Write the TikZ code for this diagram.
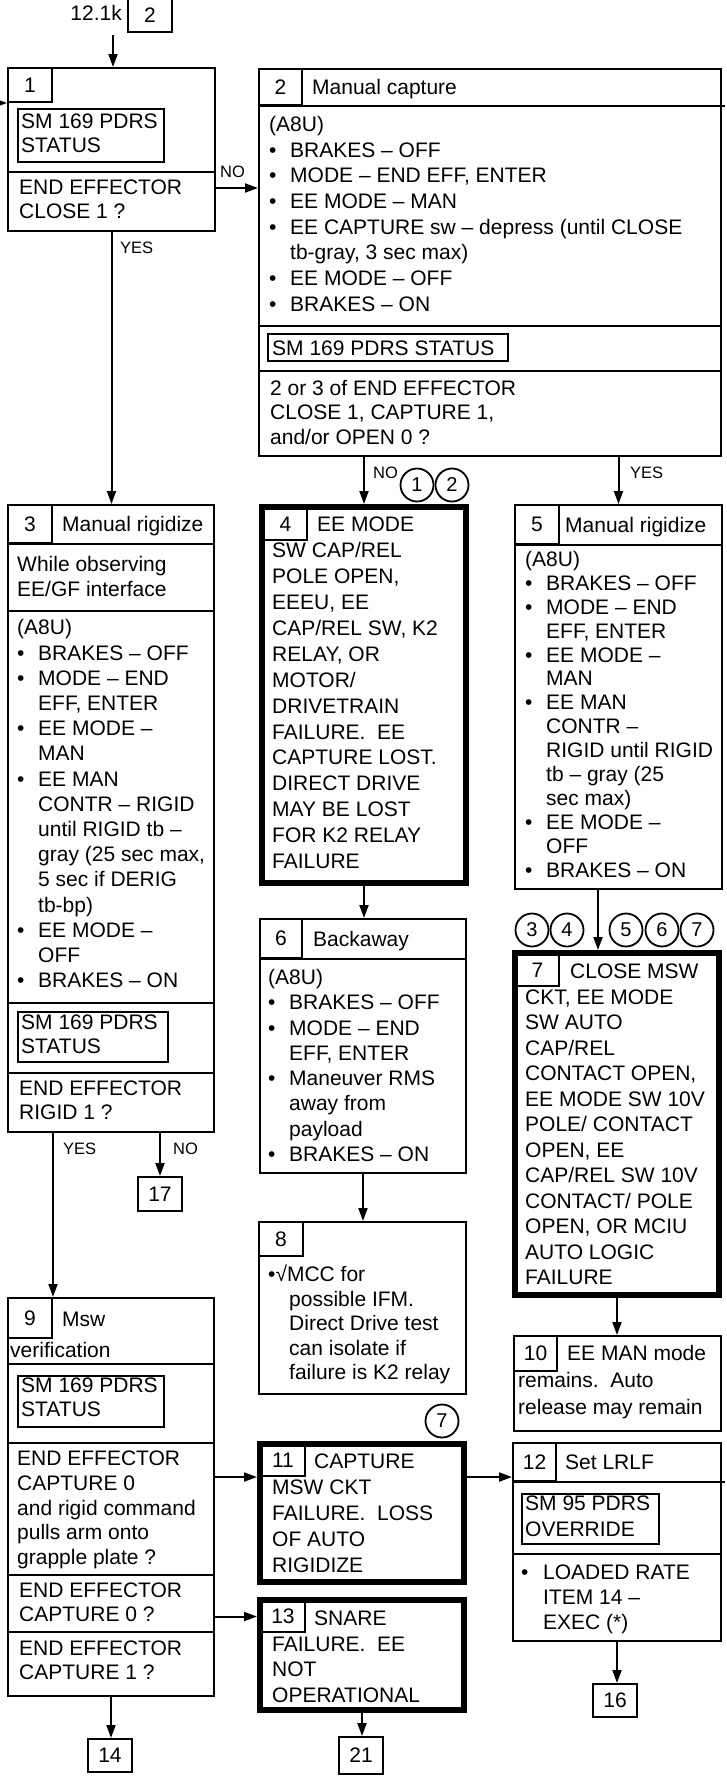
\documentclass[tikz,border=0pt]{standalone}
\usepackage{fontspec}
\setmainfont{Liberation Sans}
\usetikzlibrary{arrows.meta,positioning}
\newcommand{\bul}[1][21pt]{\makebox[#1][l]{•}}
\newcommand{\bcont}[1][21pt]{\hspace*{#1}}

\begin{document}
\begin{tikzpicture}[x=1pt,y=-1pt,>={Triangle[length=13pt,width=9pt]},
  box/.style={draw,line width=2pt,anchor=north west,inner sep=0pt,font=\fontsize{21}{25}\selectfont},
  failbox/.style={draw,line width=6pt,anchor=north west,inner sep=0pt},
  txt/.style={anchor=north west,inner sep=0pt,align=left,font=\fontsize{21}{#1}\selectfont,execute at begin node={\rule{0pt}{18pt}}},
  txt/.default=25.5,
  head/.style={anchor=base west,inner sep=0pt,font=\fontsize{21}{25}\selectfont},
  lbl/.style={anchor=base west,inner sep=0pt,font=\fontsize{16.5}{18}\selectfont},
  circ/.style={draw,circle,line width=1.8pt,minimum size=33pt,inner sep=0pt,font=\fontsize{20}{22}\selectfont},
  divline/.style={line width=2pt},
  link/.style={line width=2pt,->}]
\path[fill=white,use as bounding box] (0,0) rectangle (727,1792);

\node[anchor=base east,inner sep=0pt,font=\fontsize{21}{25}\selectfont] (ref) at (122,20) {12.1k};
\node[box,minimum width=44pt,minimum height=33pt] (r2) at (127,-2) {2};
\coordinate (entry) at (113,35);
\coordinate (side) at (-6,103);

% 1
\node[box,minimum width=207pt,minimum height=163pt] (b1) at (7,67) {};
\node[box,minimum width=44pt,minimum height=34pt] (n1) at (7,67) {1};
\node[box,minimum width=146pt,minimum height=53pt] (s1) at (17,108) {};
\node[txt=24] (s1t) at (21,114) {SM 169 PDRS\\STATUS};
\draw[divline] (b1.west |- 0,172) -- (b1.east |- 0,172);
\node[txt=24] (q1) at (19,180) {END EFFECTOR\\CLOSE 1 ?};

% 2
\node[box,minimum width=462pt,minimum height=387pt] (b2) at (258,68) {};
\node[box,minimum width=43pt,minimum height=36pt] (n2) at (258,68) {2};
\node[head] (h2) at (312,94.5) {Manual capture};
\draw[divline] (b2.west |- 0,106) -- ([xshift=3pt]b2.east |- 0,106);
\node[txt=25.7] (t2) at (269,116) {(A8U)\\\bul BRAKES – OFF\\\bul MODE – END EFF, ENTER\\\bul EE MODE – MAN\\\bul EE CAPTURE sw – depress (until CLOSE\\\bcont tb-gray, 3 sec max)\\\bul EE MODE – OFF\\\bul BRAKES – ON};
\draw[divline] (b2.west |- 0,326) -- (b2.east |- 0,326);
\node[box,minimum width=240pt,minimum height=27pt] (s2) at (267,333) {};
\node[head] (s2t) at (272,355) {SM 169 PDRS STATUS};
\draw[divline] (b2.west |- 0,371) -- (b2.east |- 0,371);
\node[txt=24.5] (q2) at (270,380) {2 or 3 of END EFFECTOR\\CLOSE 1, CAPTURE 1,\\and/or OPEN 0 ?};

% 3
\node[box,minimum width=206pt,minimum height=627pt] (b3) at (7,504) {};
\node[box,minimum width=44pt,minimum height=38pt] (n3) at (7,504) {3};
\node[head] (h3) at (62,531.5) {Manual rigidize};
\draw[divline] (b3.west |- 0,544) -- (b3.east |- 0,544);
\node[txt=25] (w3) at (17,556.5) {While observing\\EE/GF interface};
\draw[divline] (b3.west |- 0,611) -- (b3.east |- 0,611);
\node[txt=25.2] (t3) at (17,619.5) {(A8U)\\\bul BRAKES – OFF\\\bul MODE – END\\\bcont EFF, ENTER\\\bul EE MODE –\\\bcont MAN\\\bul EE MAN\\\bcont CONTR – RIGID\\\bcont until RIGID tb –\\\bcont gray (25 sec max,\\\bcont 5 sec if DERIG\\\bcont tb-bp)\\\bul EE MODE –\\\bcont OFF\\\bul BRAKES – ON};
\draw[divline] (b3.west |- 0,1003) -- (b3.east |- 0,1003);
\node[box,minimum width=150pt,minimum height=50pt] (s3) at (17,1011) {};
\node[txt=24] (s3t) at (21,1015) {SM 169 PDRS\\STATUS};
\draw[divline] (b3.west |- 0,1073) -- (b3.east |- 0,1073);
\node[txt=24.5] (q3) at (19,1080.5) {END EFFECTOR\\RIGID 1 ?};

% 4
\node[failbox,minimum width=204pt,minimum height=376pt] (b4) at (259,504) {};
\node[box,minimum width=43pt,minimum height=31pt] (n4) at (263,508) {4};
\node[txt=25.9] (t4) at (272,517) {\hspace*{45pt}EE MODE\\SW CAP/REL\\POLE OPEN,\\EEEU, EE\\CAP/REL SW, K2\\RELAY, OR\\MOTOR/\\DRIVETRAIN\\FAILURE.\ \ EE\\CAPTURE LOST.\\DIRECT DRIVE\\MAY BE LOST\\FOR K2 RELAY\\FAILURE};

% 6
\node[box,minimum width=206pt,minimum height=254pt] (b6) at (259,918) {};
\node[box,minimum width=42pt,minimum height=39pt] (n6) at (259,918) {6};
\node[head] (h6) at (313,946) {Backaway};
\draw[divline] (b6.west |- 0,959) -- (b6.east |- 0,959);
\node[txt=25.3] (t6) at (268,969) {(A8U)\\\bul BRAKES – OFF\\\bul MODE – END\\\bcont EFF, ENTER\\\bul Maneuver RMS\\\bcont away from\\\bcont payload\\\bul BRAKES – ON};

% 8
\node[box,minimum width=207pt,minimum height=172pt] (b8) at (258,1221) {};
\node[box,minimum width=44pt,minimum height=34pt] (n8) at (258,1221) {8};
\node[txt=24.5] (t8) at (268,1265) {•√MCC for\\\bcont possible IFM.\\\bcont Direct Drive test\\\bcont can isolate if\\\bcont failure is K2 relay};

% 5
\node[box,minimum width=207pt,minimum height=384pt] (b5) at (514,504) {};
\node[box,minimum width=44pt,minimum height=39pt] (n5) at (514,504) {5};
\node[head] (h5) at (565,532) {Manual rigidize};
\draw[divline] (b5.west |- 0,545) -- (b5.east |- 0,545);
\node[txt=23.9] (t5) at (525,551) {(A8U)\\\bul BRAKES – OFF\\\bul MODE – END\\\bcont EFF, ENTER\\\bul EE MODE –\\\bcont MAN\\\bul EE MAN\\\bcont CONTR –\\\bcont RIGID until RIGID\\\bcont tb – gray (25\\\bcont sec max)\\\bul EE MODE –\\\bcont OFF\\\bul BRAKES – ON};

\node[circ] (c1) at (417,485) {1};
\node[circ] (c2) at (452,485) {2};
\node[circ] (c3) at (532,930) {3};
\node[circ] (c4) at (567,930) {4};
\node[circ] (c5) at (626,930) {5};
\node[circ] (c6) at (662,930) {6};
\node[circ] (c7) at (697,930) {7};
\node[circ] (c7b) at (442,1421) {7};

% 7
\node[failbox,minimum width=204pt,minimum height=342pt] (b7) at (512,950) {};
\node[box,minimum width=43pt,minimum height=32pt] (n7) at (515,953) {7};
\node[txt=25.5] (t7) at (525,964) {\hspace*{45pt}CLOSE MSW\\CKT, EE MODE\\SW AUTO\\CAP/REL\\CONTACT OPEN,\\EE MODE SW 10V\\POLE/ CONTACT\\OPEN, EE\\CAP/REL SW 10V\\CONTACT/ POLE\\OPEN, OR MCIU\\AUTO LOGIC\\FAILURE};

% 10
\node[box,minimum width=207pt,minimum height=95pt] (b10) at (513,1335) {};
\node[box,minimum width=43pt,minimum height=35pt] (n10) at (513,1335) {10};
\node[txt=27] (t10) at (518,1345) {\hspace*{49pt}EE MAN mode\\remains.\ \ Auto\\release may remain};

% 9
\node[box,minimum width=206pt,minimum height=398pt] (b9) at (7,1297) {};
\node[box,minimum width=44pt,minimum height=40pt] (n9) at (7,1297) {9};
\node[head] (h9) at (62,1326) {Msw};
\node[head] (h9b) at (10,1357) {verification};
\draw[divline] (b9.west |- 0,1364) -- (b9.east |- 0,1364);
\node[box,minimum width=146pt,minimum height=51pt] (s9) at (17,1375) {};
\node[txt=24] (s9t) at (21,1378) {SM 169 PDRS\\STATUS};
\draw[divline] (b9.west |- 0,1443) -- (b9.east |- 0,1443);
\node[txt=24.6] (q9a) at (17,1451) {END EFFECTOR\\CAPTURE 0\\and rigid command\\pulls arm onto\\grapple plate ?};
\draw[divline] (b9.west |- 0,1575) -- (b9.east |- 0,1575);
\node[txt=24] (q9b) at (19,1583) {END EFFECTOR\\CAPTURE 0 ?};
\draw[divline] (b9.west |- 0,1632) -- (b9.east |- 0,1632);
\node[txt=23.5] (q9c) at (19,1641) {END EFFECTOR\\CAPTURE 1 ?};

% 11
\node[failbox,minimum width=204pt,minimum height=138pt] (b11) at (257,1441) {};
\node[box,minimum width=44pt,minimum height=31pt] (n11) at (260,1444) {11};
\node[txt=25.8] (t11) at (272,1454) {\hspace*{42pt}CAPTURE\\MSW CKT\\FAILURE.\ \ LOSS\\OF AUTO\\RIGIDIZE};

% 13
\node[failbox,minimum width=204pt,minimum height=110pt] (b13) at (257,1597) {};
\node[box,minimum width=44pt,minimum height=31pt] (n13) at (260,1600) {13};
\node[txt=25.5] (t13) at (272,1611) {\hspace*{42pt}SNARE\\FAILURE.\ \ EE\\NOT\\OPERATIONAL};

% 12
\node[box,minimum width=208pt,minimum height=198pt] (b12) at (512,1442) {};
\node[box,minimum width=43pt,minimum height=38pt] (n12) at (512,1442) {12};
\node[head] (h12) at (565,1469.5) {Set LRLF};
\draw[divline] (b12.west |- 0,1482) -- ([xshift=3pt]b12.east |- 0,1482);
\node[box,minimum width=137pt,minimum height=50pt] (s12) at (521,1493) {};
\node[txt=26] (s12t) at (525,1495.5) {SM 95 PDRS\\OVERRIDE};
\draw[divline] (b12.west |- 0,1554) -- (b12.east |- 0,1554);
\node[txt=25] (t12) at (521,1564.5) {\bul[22pt]LOADED RATE\\\bcont[22pt]ITEM 14 –\\\bcont[22pt]EXEC (*)};

\node[box,minimum width=44pt,minimum height=34pt] (r17) at (137,1176) {17};
\node[box,minimum width=44pt,minimum height=33pt] (r14) at (87,1738) {14};
\node[box,minimum width=44pt,minimum height=37pt] (r21) at (338,1736) {21};
\node[box,minimum width=44pt,minimum height=33pt] (r16) at (592,1683) {16};

\node[lbl] (no1) at (220,177) {NO};
\node[lbl] (yes1) at (120,253) {YES};
\node[lbl] (no2) at (373,478) {NO};
\node[lbl] (yes2) at (630,478) {YES};
\node[lbl] (yes3) at (63,1154) {YES};
\node[lbl] (no3) at (173,1154) {NO};

\draw[link] (entry) -- (entry |- b1.north);
\draw[link] (side) -- (side -| b1.west);
\draw[link] (b1.east |- 0,188) -- (b2.west |- 0,188);
\draw[link] (b1.south) -- (b1.south |- b3.north);
\draw[link] (b4.north |- b2.south) -- (b4.north);
\draw[link] (b5.north |- b2.south) -- (b5.north);
\draw[link] (b3.south -| n9.east) -- (n9.north east);
\draw[link] (b3.south -| r17.north) -- (r17.north);
\draw[link] (b4.south) -- (b4.south |- b6.north);
\draw[link] (b6.south) -- (b6.south |- b8.north);
\draw[link] ([xshift=-20.5pt]b5.south) -- ([xshift=-20.5pt]b5.south |- b7.north);
\draw[link] (b7.south) -- (b7.south |- b10.north);
\draw[link] (b9.east |- n11.south) -- (b11.west |- n11.south);
\draw[link] (b9.east |- n13.west) -- (b13.west |- n13.west);
\draw[link] (b11.east |- n11.south) -- (b12.west |- n11.south);
\draw[link] (b9.south) -- (b9.south |- r14.north);
\draw[link] (b13.south) -- (b13.south |- r21.north);
\draw[link] (b12.south) -- (b12.south |- r16.north);
\end{tikzpicture}
\end{document}
